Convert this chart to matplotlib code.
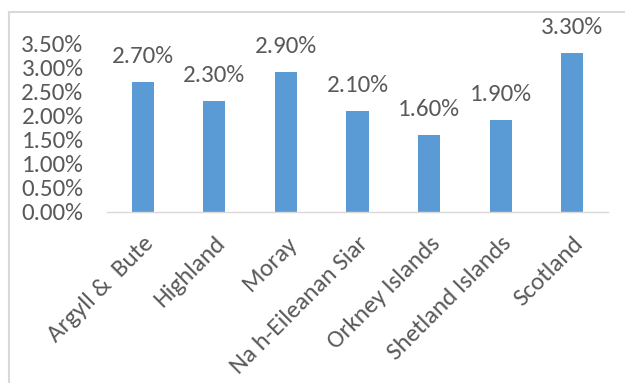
import matplotlib
matplotlib.use("Agg")
import matplotlib.pyplot as plt
from matplotlib.lines import Line2D
from matplotlib.ticker import FuncFormatter

categories = ["Argyll &  Bute", "Highland", "Moray", "Na h-Eileanan Siar",
              "Orkney Islands", "Shetland Islands", "Scotland"]
values = [2.70, 2.30, 2.90, 2.10, 1.60, 1.90, 3.30]
yticks = [0.0, 0.5, 1.0, 1.5, 2.0, 2.5, 3.0, 3.5]

plt.rcParams["font.family"] = ["Carlito", "Lato", "DejaVu Sans"]
TEXT = "#595959"
BAR = "#5B9BD5"
FS = 18

W, H = 625, 385
fig = plt.figure(figsize=(W / 100, H / 100), dpi=100)

# axes placement in pixel units
left, right, top, base = 107, 608, 43, 212
ax = fig.add_axes([left / W, 1 - base / H, (right - left) / W, (base - top) / H])

x = range(len(categories))
bars = ax.bar(x, values, width=0.31, color=BAR, zorder=2)

for xi, v in zip(x, values):
    ax.annotate(f"{v:.2f}%", (xi, v), xytext=(0, 19), textcoords="offset pixels",
                ha="center", va="baseline", fontsize=FS, color=TEXT)

ax.set_xlim(-0.5, len(categories) - 0.5)
ax.set_ylim(0, 3.5)
ax.set_yticks(yticks)
ax.yaxis.set_major_formatter(FuncFormatter(lambda v, p: f"{v:.2f}%"))
ax.set_xticks(list(x))
ax.set_xticklabels(categories, rotation=45, ha="right", rotation_mode="anchor",
                   fontsize=FS, color=TEXT)

ax.tick_params(axis="y", length=0, pad=17, labelsize=FS, labelcolor=TEXT)
ax.tick_params(axis="x", length=0, pad=15)

for s in ["top", "right", "left"]:
    ax.spines[s].set_visible(False)
ax.spines["bottom"].set_color("#D9D9D9")
ax.spines["bottom"].set_linewidth(1.0)

# light chart frame (top and left edges)
fx0, fy0, fy1 = 8.5 / W, 1 - 11.5 / H, 1 - 382 / H
fig.add_artist(Line2D([fx0, 1.0], [fy0, fy0], color="#D9D9D9", lw=1.5,
                      transform=fig.transFigure))
fig.add_artist(Line2D([fx0, fx0], [fy0, fy1], color="#D9D9D9", lw=1.5,
                      transform=fig.transFigure))

fig.savefig("out.png", dpi=100, facecolor="white")
